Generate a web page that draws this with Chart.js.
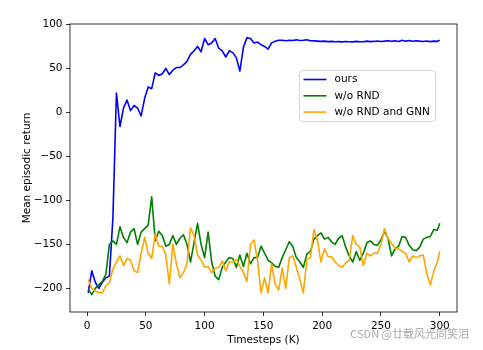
<!DOCTYPE html>
<html>
<head>
<meta charset="utf-8">
<script src="https://cdn.jsdelivr.net/npm/chart.js@4.4.0/dist/chart.umd.min.js"></script>
<style>
  html, body { margin: 0; padding: 0; background: #fff; }
  canvas { display: block; }
</style>
</head>
<body>
<canvas id="chart" width="483" height="350"></canvas>
<script>
// values (timesteps in K)
const timesteps = [
  1, 4, 7, 10, 13, 16, 19, 22, 25, 28,
  31, 34, 37, 40, 43, 46, 49, 52, 55, 58,
  61, 64, 67, 70, 73, 76, 79, 82, 85, 88,
  91, 94, 97, 100, 103, 106, 109, 112, 115, 118,
  121, 124, 127, 130, 133, 136, 139, 142, 145, 148,
  151, 154, 157, 160, 163, 166, 169, 172, 175, 178,
  181, 184, 187, 190, 193, 196, 199, 202, 205, 208,
  211, 214, 217, 220, 223, 226, 229, 232, 235, 238,
  241, 244, 247, 250, 253, 256, 259, 262, 265, 268,
  271, 274, 277, 280, 283, 286, 289, 292, 295, 298,
  300
];

const ours = [
  -205, -180, -193, -200, -193, -188, -186, -120, 22, -16,
  5, 14, 2, 8, 5, -4, 16, 29, 27, 45,
  42, 44, 50, 43, 48, 51, 51, 54, 58, 66,
  70, 75, 69, 84, 77, 79, 84, 73, 70, 63,
  70, 68, 62, 47, 74, 85, 84, 79, 80, 77,
  75, 72, 79, 81, 82, 82, 81.5, 82, 81.8, 82.5,
  81.7, 82, 82.6, 81.5, 81.3, 81, 80.7, 81, 80.5, 80.8,
  80.3, 80.5, 80.2, 80.6, 80.4, 80.2, 80.8, 80.4, 80.3, 81,
  80.5, 80.7, 81.2, 80.6, 81, 81.5, 80.8, 81.4, 80.7, 82,
  81, 81.8, 80.9, 81.5, 81, 80.6, 81.2, 80.5, 81, 80.8,
  82
];

const noRnd = [
  -201, -207, -200, -196, -192, -184, -150, -146, -150, -130,
  -142, -148, -136, -132, -150, -136, -132, -128, -96, -146,
  -135, -140, -152, -150, -140, -150, -143, -139, -150, -170,
  -148, -126, -150, -165, -136, -170, -186, -190, -176, -170,
  -165, -166, -176, -162, -175, -160, -172, -165, -165, -152,
  -160, -168, -171, -175, -176, -165, -156, -147, -152, -165,
  -170, -176, -161, -158, -144, -140, -137, -144, -142, -147,
  -150, -143, -140, -153, -163, -170, -158, -168, -160, -148,
  -146, -150, -151, -145, -135, -143, -163, -155, -152, -141,
  -142, -151, -156, -157, -153, -144, -142, -141, -133, -134,
  -126
];

const noRndGnn = [
  -190, -200, -203, -205, -205, -197, -194, -178, -170, -163,
  -174, -166, -168, -180, -182, -160, -142, -160, -166, -138,
  -152, -152, -162, -195, -150, -172, -188, -182, -172, -131,
  -140, -162, -168, -176, -175, -182, -177, -176, -169, -180,
  -170, -170, -167, -175, -182, -192, -150, -145, -168, -205,
  -188, -205, -172, -195, -202, -177, -200, -165, -163, -176,
  -190, -205, -167, -165, -133, -145, -170, -155, -164, -164,
  -170, -174, -176, -171, -168, -140, -150, -153, -174, -160,
  -163, -160, -160, -150, -132, -143, -149, -154, -155, -158,
  -160, -170, -163, -165, -163, -162, -183, -196, -180, -170,
  -158
];

const xTicks = [0, 50, 100, 150, 200, 250, 300];
const yTicks = [-200, -150, -100, -50, 0, 50, 100];
const seriesLabels = ['ours', 'w/o RND', 'w/o RND and GNN'];
const seriesColors = ['#0000ff', '#008000', '#ffa500'];

const FONT = 'DejaVu Sans';
const fontSpec = { family: FONT, size: 10.5 };

function points(ys) {
  return timesteps.map((t, i) => ({ x: t, y: ys[i] }));
}

function minusSign(v) {
  return String(v).replace('-', '\u2212');
}

// matplotlib-style frame around the axes
const framePlugin = {
  id: 'frame',
  afterDraw(chart) {
    const { ctx, chartArea: a } = chart;
    ctx.save();
    ctx.strokeStyle = '#000';
    ctx.lineWidth = 0.8;
    ctx.strokeRect(a.left, a.top, a.right - a.left, a.bottom - a.top);
    ctx.restore();
  }
};

// legend box inside the axes, upper right area
const legendPlugin = {
  id: 'innerLegend',
  afterDraw(chart) {
    const { ctx, chartArea: a } = chart;
    const x0 = a.left + 229.5, y0 = a.top + 46.5, w = 136, h = 51;
    ctx.save();
    ctx.beginPath();
    ctx.roundRect(x0, y0, w, h, 3);
    ctx.fillStyle = 'rgba(255,255,255,0.8)';
    ctx.fill();
    ctx.strokeStyle = '#cccccc';
    ctx.lineWidth = 0.8;
    ctx.stroke();
    ctx.font = '10.5px "' + FONT + '"';
    ctx.textBaseline = 'middle';
    ctx.textAlign = 'left';
    chart.data.datasets.forEach((ds, i) => {
      const y = y0 + 9 + i * 16.3;
      ctx.beginPath();
      ctx.moveTo(x0 + 4, y);
      ctx.lineTo(x0 + 27, y);
      ctx.strokeStyle = ds.borderColor;
      ctx.lineWidth = 1.6;
      ctx.stroke();
      ctx.fillStyle = '#000';
      ctx.fillText(ds.label, x0 + 35, y);
    });
    ctx.restore();
  }
};

const watermarkPlugin = {
  id: 'watermark',
  afterDraw(chart) {
    const { ctx } = chart;
    ctx.save();
    ctx.font = '11px "Noto Sans CJK SC", "' + FONT + '"';
    ctx.fillStyle = '#ababab';
    ctx.textAlign = 'right';
    ctx.textBaseline = 'middle';
    ctx.fillText('CSDN @廿载风光同笑泪', 469, 334);
    ctx.restore();
  }
};

const allSeries = [ours, noRnd, noRndGnn];

new Chart(document.getElementById('chart'), {
  type: 'line',
  data: {
    datasets: allSeries.map((ys, i) => ({
      label: seriesLabels[i],
      data: points(ys),
      borderColor: seriesColors[i],
      backgroundColor: seriesColors[i],
      borderWidth: 1.6,
      borderJoinStyle: 'round',
      pointRadius: 0,
      tension: 0,
      fill: false,
      order: allSeries.length - i
    }))
  },
  options: {
    responsive: false,
    animation: false,
    devicePixelRatio: 1,
    layout: { padding: { left: 0, top: 24, right: 26, bottom: 0 } },
    plugins: {
      legend: { display: false },
      tooltip: { enabled: false }
    },
    scales: {
      x: {
        type: 'linear',
        min: -14.5,
        max: 314.7,
        afterBuildTicks: s => { s.ticks = xTicks.map(v => ({ value: v })); },
        afterFit: s => { s.height = 38; s.paddingLeft = 0; s.paddingRight = 0; },
        grid: { drawOnChartArea: false, drawTicks: true, tickLength: 4, tickColor: '#000', lineWidth: 0.8 },
        border: { display: false },
        ticks: { font: fontSpec, color: '#000', padding: 3.5, maxRotation: 0, autoSkip: false,
                 callback: v => minusSign(v) },
        title: { display: true, text: 'Timesteps (K)', font: fontSpec, color: '#000',
                 padding: { top: 3.7, bottom: 3.7 } }
      },
      y: {
        type: 'linear',
        min: -226.8,
        max: 100.5,
        afterBuildTicks: s => { s.ticks = yTicks.map(v => ({ value: v })); },
        afterFit: s => { s.width = 70; s.paddingTop = 0; s.paddingBottom = 0; },
        grid: { drawOnChartArea: false, drawTicks: true, tickLength: 4, tickColor: '#000', lineWidth: 0.8 },
        border: { display: false },
        ticks: { font: fontSpec, color: '#000', padding: 3.5, autoSkip: false,
                 callback: v => minusSign(v) },
        title: { display: true, text: 'Mean episodic return', font: fontSpec, color: '#000',
                 padding: { top: 20.7, bottom: 20.7 } }
      }
    }
  },
  plugins: [framePlugin, legendPlugin, watermarkPlugin]
});
</script>
</body>
</html>
